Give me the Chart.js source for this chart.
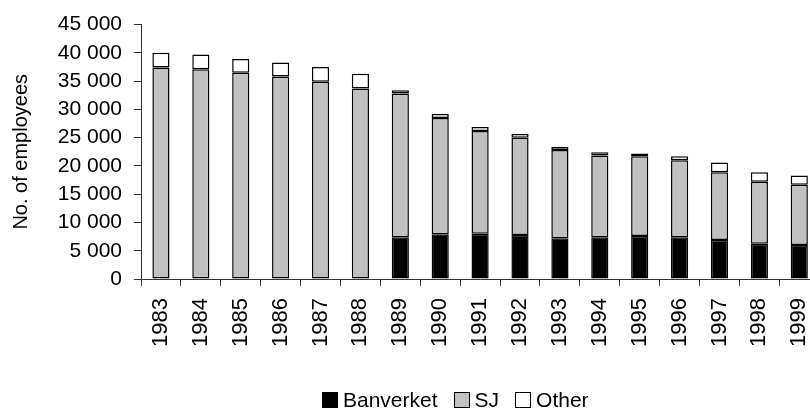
<!DOCTYPE html>
<html lang="en">
<head>
    <meta charset="UTF-8">
    <title>Employees 1983-1999</title>
    <style>
        html, body { margin: 0; padding: 0; background: #fff; }
        body { font-family: 'Liberation Sans', Arial, sans-serif; }
        #wrap { position: relative; width: 810px; height: 411px; overflow: hidden; }
        #chart { position: absolute; left: 0; top: 0; }
        #legend {
            position: absolute;
            left: 322px;
            top: 388px;
            display: flex;
            align-items: center;
            font-size: 21px;
            color: #000;
        }
        .item { display: flex; align-items: center; margin-right: 16px; }
        .swatch { width: 14px; height: 14px; border: 1px solid #000; margin-right: 5px; }
    </style>
    <script src="https://cdn.jsdelivr.net/npm/chart.js@4.4.1/dist/chart.umd.min.js"></script>
</head>
<body>

<div id="wrap">
    <canvas id="chart" width="838" height="411"></canvas>
    <div id="legend"></div>
</div>

<script>
    const years = ['1983', '1984', '1985', '1986', '1987', '1988', '1989', '1990', '1991',
                   '1992', '1993', '1994', '1995', '1996', '1997', '1998', '1999'];
    const banverket = [null, null, null, null, null, null, 7400, 7900, 8000, 7800, 7200, 7400, 7600, 7400, 6900, 6250, 6000];
    const sj = [37400, 37100, 36500, 35800, 34900, 33700, 25400, 20600, 18200, 17200, 15600, 14450, 14100, 13600, 12000, 10950, 10650];
    const other = [2600, 2600, 2400, 2500, 2600, 2600, 600, 700, 700, 650, 600, 550, 500, 700, 1700, 1700, 1650];

    const seriesNames = ['Banverket', 'SJ', 'Other'];
    const seriesColors = ['#000000', '#c0c0c0', '#ffffff'];

    const fmt = v => String(v).replace(/\B(?=(\d{3})+(?!\d))/g, ' ');
    const font = { family: "'Liberation Sans', Arial, sans-serif" };

    const datasets = [banverket, sj, other].map((values, i) => ({
        label: seriesNames[i],
        data: values,
        backgroundColor: seriesColors[i],
        borderColor: '#000',
        borderWidth: 1.5,
        borderSkipped: false,
        categoryPercentage: 1,
        barPercentage: 0.43
    }));

    new Chart(document.getElementById('chart'), {
        type: 'bar',
        data: { labels: years, datasets: datasets },
        options: {
            responsive: false,
            animation: false,
            layout: { padding: { left: 0, top: 23, right: 11, bottom: 64 } },
            plugins: {
                legend: { display: false },
                tooltip: { enabled: false }
            },
            scales: {
                x: {
                    stacked: true,
                    grid: { display: true, drawOnChartArea: false, drawTicks: true, tickLength: 7, tickColor: '#333', offset: true },
                    border: { color: '#333', width: 1 },
                    ticks: {
                        color: '#000',
                        font: { ...font, size: 22 },
                        minRotation: 90,
                        maxRotation: 90,
                        padding: 12,
                        autoSkip: false
                    },
                    afterFit: s => { s.height = 68; }
                },
                y: {
                    stacked: true,
                    min: 0,
                    max: 45000,
                    grid: { display: true, drawOnChartArea: false, drawTicks: true, tickLength: 7, tickColor: '#333' },
                    border: { color: '#333', width: 1 },
                    ticks: {
                        stepSize: 5000,
                        color: '#000',
                        font: { ...font, size: 21 },
                        padding: 12,
                        callback: v => fmt(v)
                    },
                    title: {
                        display: true,
                        text: 'No. of employees',
                        color: '#000',
                        font: { ...font, size: 20 },
                        padding: { top: 9, bottom: 0 }
                    },
                    afterFit: s => { s.width = 141; }
                }
            }
        }
    });

    // legend drawn from the series names and colours
    const legend = document.getElementById('legend');
    seriesNames.forEach((name, i) => {
        const item = document.createElement('div');
        item.className = 'item';
        item.innerHTML = `<span class="swatch" style="background:${seriesColors[i]}"></span><span>${name}</span>`;
        legend.appendChild(item);
    });
</script>

</body>
</html>
